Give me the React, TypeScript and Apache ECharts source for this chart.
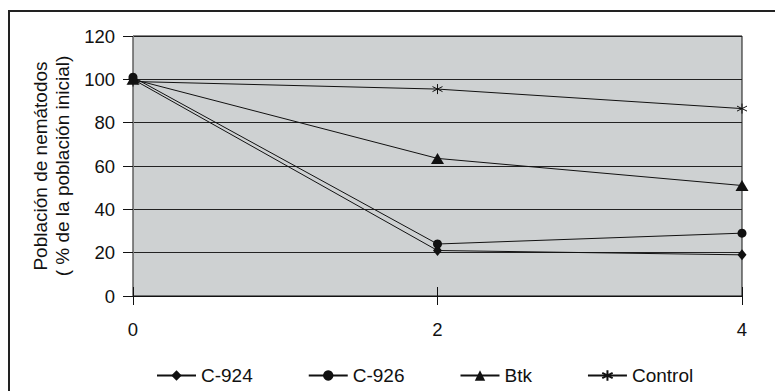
import React, { useEffect, useRef } from "react";
import * as echarts from "echarts";

// Days after inoculation
const days = ["0", "2", "4"];

// Nematode population, % of the initial population
const c924 = [100, 21, 19];
const c926 = [101, 24, 29];
const btk = [100, 63.5, 51];
const control = [99, 95.5, 86.5];

const yTicks = { min: 0, max: 120, interval: 20 };

const FONT = "'Liberation Sans', Arial, Helvetica, sans-serif";
const INK = "#111";

// six-armed asterisk used for the control series
const asterisk =
  "path://M0,-1L0,1M-0.87,-0.5L0.87,0.5M-0.87,0.5L0.87,-0.5";

export default function App() {
  const ref = useRef<HTMLDivElement>(null);

  useEffect(() => {
    if (!ref.current) return;
    const chart = echarts.init(ref.current, null, { renderer: "svg" });

    const lineSeries = (
      name: string,
      data: number[],
      symbol: string,
      symbolSize: number | number[]
    ) => ({
      name,
      type: "line",
      data,
      symbol,
      symbolSize,
      showSymbol: true,
      lineStyle: { color: INK, width: 1 },
      itemStyle: {
        color: INK,
        borderColor: INK,
        borderWidth: symbol === asterisk ? 1 : 0,
      },
      emphasis: { disabled: true },
      z: 3,
    });

    chart.setOption({
      animation: false,
      backgroundColor: "#fff",
      textStyle: { fontFamily: FONT, color: INK },
      grid: {
        left: 133,
        right: 33,
        top: 36,
        bottom: 95,
        show: true,
        backgroundColor: "#ced1d2",
        borderColor: INK,
        borderWidth: 1,
      },
      graphic: [
        {
          type: "rect",
          shape: { x: 9, y: 11, width: 820, height: 420 },
          style: { fill: "none", stroke: "#222", lineWidth: 2 },
          silent: true,
        },
      ],
      legend: {
        left: 156,
        top: 366,
        padding: 0,
        itemWidth: 39,
        itemHeight: 13,
        itemGap: 55,
        textStyle: { fontFamily: FONT, fontSize: 19, color: INK },
        data: ["C-924", "C-926", "Btk", "Control"],
      },
      xAxis: [
        {
          type: "category",
          data: days,
          boundaryGap: false,
          axisLine: { lineStyle: { color: INK, width: 1 } },
          axisTick: { show: true, length: 9, lineStyle: { color: INK } },
          axisLabel: {
            margin: 24,
            fontSize: 18.5,
            fontFamily: FONT,
            color: INK,
          },
          splitLine: { show: false },
        },
        {
          type: "category",
          data: days,
          boundaryGap: false,
          position: "bottom",
          axisLine: { show: false },
          axisTick: {
            show: true,
            inside: true,
            length: 9,
            lineStyle: { color: INK },
          },
          axisLabel: { show: false },
          splitLine: { show: false },
        },
      ],
      yAxis: {
        type: "value",
        min: yTicks.min,
        max: yTicks.max,
        interval: yTicks.interval,
        name: "Población de nemátodos\n( % de la población inicial)",
        nameLocation: "middle",
        nameRotate: 90,
        nameGap: 55,
        nameTextStyle: {
          fontFamily: FONT,
          fontSize: 19,
          color: INK,
          lineHeight: 22,
        },
        axisLine: { show: true, lineStyle: { color: "#7a7a7a", width: 1 } },
        axisTick: { show: true, length: 10, lineStyle: { color: INK } },
        axisLabel: {
          margin: 18,
          fontSize: 18.5,
          fontFamily: FONT,
          color: INK,
        },
        splitLine: { show: true, lineStyle: { color: "#222", width: 1 } },
      },
      series: [
        lineSeries("C-924", c924, "diamond", [9, 11]),
        lineSeries("C-926", c926, "circle", 9),
        lineSeries("Btk", btk, "triangle", [13, 11]),
        lineSeries("Control", control, asterisk, 10),
      ],
    });

    return () => chart.dispose();
  }, []);

  return (
    <div
      ref={ref}
      style={{
        position: "fixed",
        left: 0,
        top: 0,
        width: 775,
        height: 391,
      }}
    />
  );
}
